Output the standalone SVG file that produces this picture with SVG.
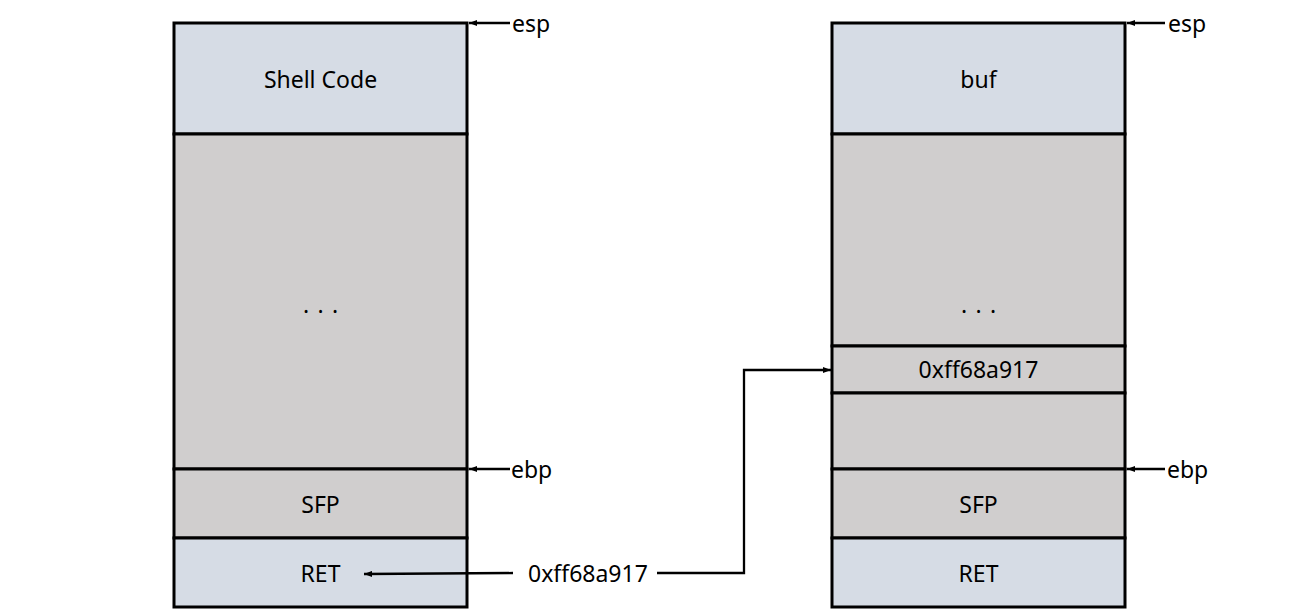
<svg xmlns="http://www.w3.org/2000/svg" width="1298" height="610" viewBox="0 0 1298 610">
<defs>
<marker id="ah" markerWidth="8" markerHeight="6" refX="8" refY="3" orient="auto" markerUnits="userSpaceOnUse">
<path d="M0,0 L8,3 L0,6 Z" fill="#000"/>
</marker>
<style>
.blue{fill:#D6DCE5;stroke:#000;stroke-width:3}
.gray{fill:#D0CECE;stroke:#000;stroke-width:3}
.t{font-family:"Noto Sans","Open Sans",sans-serif;font-size:23px;fill:#000;text-anchor:middle}
.l{font-family:"Noto Sans","Open Sans",sans-serif;font-size:23px;fill:#000}
.c{fill:none;stroke:#000;stroke-width:2.3;marker-end:url(#ah)}
</style>
</defs>
<rect width="1298" height="610" fill="#fff"/>
<g id="left-stack">
<g id="l-shell"><rect class="blue" x="174" y="23" width="293" height="111"/><text class="t" x="320.5" y="88">Shell Code</text></g>
<g id="l-mid"><rect class="gray" x="174" y="134" width="293" height="335"/><text class="t" y="313"><tspan x="306">.</tspan><tspan x="320.5">.</tspan><tspan x="335">.</tspan></text></g>
<g id="l-sfp"><rect class="gray" x="174" y="469" width="293" height="69"/><text class="t" x="320.5" y="513">SFP</text></g>
<g id="l-ret"><rect class="blue" x="174" y="538" width="293" height="69"/><text class="t" x="320.5" y="582">RET</text></g>
</g>
<g id="right-stack">
<g id="r-buf"><rect class="blue" x="832" y="23" width="293" height="111"/><text class="t" x="978.5" y="88">buf</text></g>
<g id="r-mid"><rect class="gray" x="832" y="134" width="293" height="212"/><text class="t" y="313"><tspan x="964">.</tspan><tspan x="978.5">.</tspan><tspan x="993">.</tspan></text></g>
<g id="r-addr"><rect class="gray" x="832" y="346" width="293" height="47"/><text class="t" x="978.5" y="378">0xff68a917</text></g>
<g id="r-gap"><rect class="gray" x="832" y="393" width="293" height="76"/></g>
<g id="r-sfp"><rect class="gray" x="832" y="469" width="293" height="69"/><text class="t" x="978.5" y="513">SFP</text></g>
<g id="r-ret"><rect class="blue" x="832" y="538" width="293" height="69"/><text class="t" x="978.5" y="582">RET</text></g>
</g>
<g id="labels">
<text class="l" x="512" y="32">esp</text>
<text class="l" x="511" y="478">ebp</text>
<text class="l" x="1168" y="32">esp</text>
<text class="l" x="1167" y="478">ebp</text>
<text class="l" x="528" y="582">0xff68a917</text>
</g>
<g id="connectors">
<line class="c" x1="510" y1="23" x2="469" y2="23"/>
<line class="c" x1="510" y1="469" x2="469" y2="469"/>
<line class="c" x1="1165" y1="23" x2="1127" y2="23"/>
<line class="c" x1="1165" y1="469" x2="1127" y2="469"/>
<line class="c" x1="513" y1="573" x2="364" y2="574"/>
<polyline class="c" points="657,573 744,573 744,370 831,370"/>
</g>
</svg>
